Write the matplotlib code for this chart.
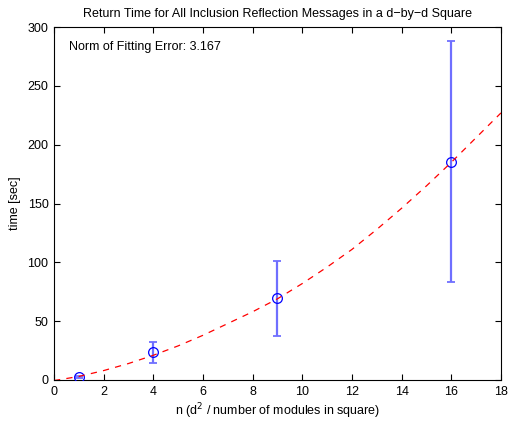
import numpy as np
import matplotlib
matplotlib.use("Agg")
import matplotlib.pyplot as plt

plt.rcParams['font.family'] = ['Liberation Sans', 'DejaVu Sans']

# measured points: n, mean time, error bar ends
n_vals = [1, 4, 9, 16]
t_mean = [2.3, 23.5, 69.4, 185.5]
t_low = [1.6, 14.7, 37.4, 83.0]
t_high = [3.0, 32.3, 101.0, 288.4]

# fitted curve
fit_n = [0, 1, 2, 3, 4, 5, 6, 7, 8, 9, 10, 11, 12, 13, 14, 15, 16, 17, 18]
fit_t = [-0.5, 3, 8, 14, 21, 29, 38, 48, 58, 69, 82, 96, 111, 128, 146, 165, 185, 206, 227]

fit_err = 3.167

fig = plt.figure(figsize=(5.08, 4.26), dpi=100)
ax = fig.add_axes([0.1063, 0.108, 0.8799, 0.8286])

yerr = [np.array(t_mean) - np.array(t_low), np.array(t_high) - np.array(t_mean)]
ax.errorbar(n_vals, t_mean, yerr=yerr, fmt='none', ecolor='#6f6fff',
            elinewidth=1.6, capsize=3, capthick=1.3, zorder=2)
ax.plot(n_vals, t_mean, 'o', mfc='none', mec='b', ms=7, mew=0.9, zorder=3)
ax.plot(fit_n, fit_t, '--', color='r', lw=0.9, dashes=(5, 5), zorder=4)

ax.text(0.6, 283, "Norm of Fitting Error: %.3f" % fit_err, fontsize=9,
        va='center', ha='left')

ax.set_xlim(0, 18)
ax.set_ylim(0, 300)
ax.set_xticks(range(0, 19, 2))
ax.set_yticks(range(0, 301, 50))
ax.tick_params(direction='in', length=4, width=0.8, top=True, right=True,
               labelsize=9, pad=4)
for s in ax.spines.values():
    s.set_linewidth(0.8)

ax.set_title("Return Time for All Inclusion Reflection Messages in a d\u2212by\u2212d Square",
             fontsize=9, pad=7)
ax.set_xlabel("n (d$^2$ / number of modules in square)", fontsize=9, labelpad=3)
ax.set_ylabel("time [sec]", fontsize=9, labelpad=5)

fig.savefig("out.png", dpi=100)
